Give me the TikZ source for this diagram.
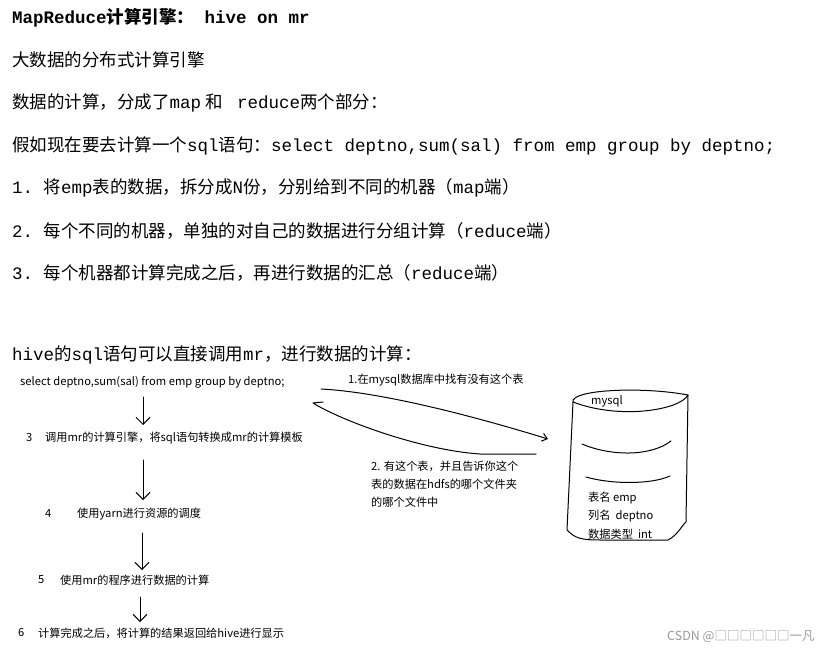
\documentclass[tikz,border=0pt]{standalone}
\usepackage{fontspec}
\setmainfont{Noto Sans CJK SC}
\setmonofont{Liberation Mono}
\newfontfamily\cjk{Noto Sans CJK SC}
\usetikzlibrary{arrows.meta}
\begin{document}
\begin{tikzpicture}[x=1pt,y=-1pt,
  top/.style={anchor=west,inner sep=0pt,font=\fontsize{17.5}{20}\selectfont},
  small/.style={anchor=west,inner sep=0pt,font=\fontsize{11.2}{13}\selectfont},
  hand/.style={line width=1pt,line cap=round,line join=round},
  harrow/.style={hand,-{Straight Barb[length=7pt,width=14pt]}}]
\useasboundingbox (0,0) rectangle (825,655);
\fill[white] (0,0) rectangle (825,655);
\node[top] (t0) at (12,18) {\bfseries\ttfamily MapReduce{\cjk 计算引擎：} hive on mr};
\node[top] (t1) at (12,60) {大数据的分布式计算引擎};
\node[top] (t2) at (12,103) {数据的计算，分成了\texttt{map} 和 \texttt{ reduce}两个部分：};
\node[top] (t3) at (12,146) {假如现在要去计算一个\texttt{sql}语句：\texttt{select deptno,sum(sal) from emp group by deptno;}};
\node[top] (t4) at (12,188) {\texttt{1. }将\texttt{emp}表的数据，拆分成\texttt{N}份，分别给到不同的机器（\texttt{map}端）};
\node[top] (t5) at (12,231) {\texttt{2. }每个不同的机器，单独的对自己的数据进行分组计算（\texttt{reduce}端）};
\node[top] (t6) at (12,273) {\texttt{3. }每个机器都计算完成之后，再进行数据的汇总（\texttt{reduce}端）};
\node[top] (t7) at (12,355) {\texttt{hive}的\texttt{sql}语句可以直接调用\texttt{mr}，进行数据的计算：};

\node[small] (s0) at (20,382) {select deptno,sum(sal) from emp group by deptno;};
\node[small] (n3) at (26,438) {3};
\node[small] (s3) at (45,438) {调用mr的计算引擎，将sql语句转换成mr的计算模板};
\node[small] (n4) at (45,514) {4};
\node[small] (s4) at (77,514) {使用yarn进行资源的调度};
\node[small] (n5) at (38,580) {5};
\node[small] (s5) at (60,580) {使用mr的程序进行数据的计算};
\node[small] (n6) at (18,633) {6};
\node[small] (s6) at (38,633) {计算完成之后，将计算的结果返回给hive进行显示};

\coordinate (a1s) at (143,397); \coordinate (a1e) at (143,425);
\coordinate (a2s) at (143,460); \coordinate (a2e) at (143,500);
\coordinate (a3s) at (142,533); \coordinate (a3e) at (142,570);
\coordinate (a4s) at (140,597); \coordinate (a4e) at (140,622);
\draw[harrow] (a1s) -- (a1e);
\draw[harrow] (a2s) -- (a2e);
\draw[harrow] (a3s) -- (a3e);
\draw[harrow] (a4s) -- (a4e);

\node[small] (l1) at (348,380) {1.在mysql数据库中找有没有这个表};
\node[small,align=left,font=\fontsize{11.2}{18}\selectfont,anchor=north west] (l2) at (371,461) {2. 有这个表，并且告诉你这个\\表的数据在hdfs的哪个文件夹\\的哪个文件中};

\coordinate (c1s) at (321,389);
\coordinate (c1e) at (548,439);
\draw[hand,-{Straight Barb[length=5pt,width=8pt]}] (c1s) .. controls (380,392) and (470,415) .. (c1e);
\coordinate (c2s) at (536,454);
\coordinate (c2e) at (313,403);
\draw[hand] (c2s) -- (480,454) .. controls (420,450) and (340,420) .. (c2e) -- (323,402);

% cylinder
\draw[hand] (573,402) .. controls (570,390) and (640,386) .. (688,395)
  .. controls (680,410) and (620,420) .. (573,402);
\draw[hand] (573,402) -- (567,530) .. controls (575,538) and (580,540) .. (600,540) -- (668,540) .. controls (678,535) and (682,525) .. (686,522) -- (688,395);
\node[small] (db) at (591,401) {mysql};
\draw[hand] (582,444) .. controls (610,456) and (650,457) .. (671,441);
\draw[hand] (586,477) .. controls (610,484) and (650,485) .. (670,476);
\node[small] (d1) at (588,498) {表名 emp};
\node[small] (d2) at (588,516) {列名 \ deptno};
\node[small] (d3) at (588,534) {数据类型 \ int};

\node[anchor=west,inner sep=0pt,text=gray!80,font=\fontsize{12.5}{14}\selectfont] (wm) at (667,637) {CSDN @□□□□□□一凡};
\end{tikzpicture}
\end{document}
